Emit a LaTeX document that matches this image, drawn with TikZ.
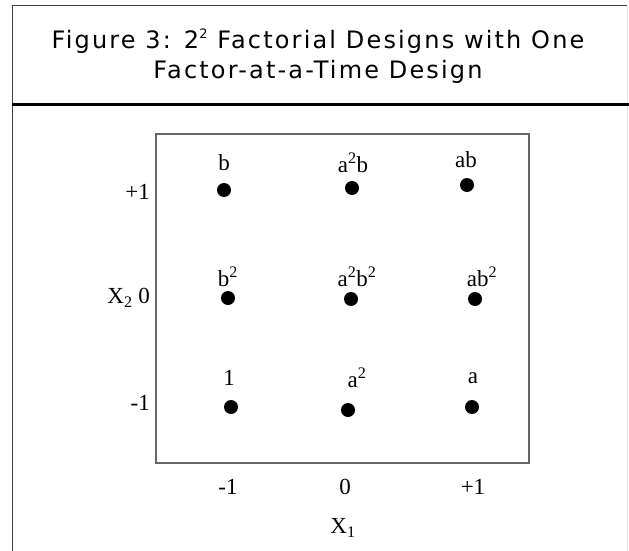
\documentclass[tikz,border=0pt]{standalone}
\usepackage{fontspec}
\setmainfont{Liberation Serif}
\newfontfamily\titlefont[LetterSpace=9]{DejaVu Sans}
\usetikzlibrary{positioning}

\tikzset{
  run/.style={circle, fill=black, inner sep=0pt, minimum size=14pt},
  lbl/.style={font=\fontsize{23}{25}\selectfont, inner sep=1pt},
  tick/.style={font=\fontsize{23}{25}\selectfont, inner sep=1pt},
}

\begin{document}
\begin{tikzpicture}[x=1pt, y=-1pt]
  \useasboundingbox (0,0) rectangle (629,551);
  % outer frame and title
  \draw[black!75, line width=1.5pt] (12.5,551) |- (627.5,5.5);
  \draw[black!10, line width=1pt] (627.5,5.5) -- (627.5,551);
  \draw[line width=2.5pt] (12,104.5) -- (629,104.5);
  \node[font=\titlefont\fontsize{24}{30}\selectfont, align=center] (title) at (318,56)
    {Figure 3: 2\raisebox{0.42em}{\fontsize{13}{13}\selectfont 2} Factorial Designs with One\\Factor-at-a-Time Design};
  % design region
  \draw[black!60, line width=2pt] (156,134) rectangle (529,463);
  % runs
  \node[run] (b)    at (224,190) {};
  \node[run] (aab)  at (352,188) {};
  \node[run] (ab)   at (467,185) {};
  \node[run] (bb)   at (228,298) {};
  \node[run] (aabb) at (351,299) {};
  \node[run] (abb)  at (475,299) {};
  \node[run] (one)  at (231,407) {};
  \node[run] (aa)   at (348,410) {};
  \node[run] (a)    at (472,407) {};
  % run labels
  \node[lbl] (lb)    at (224,163) {b};
  \node[lbl] (laab)  at (353,163) {a\textsuperscript{2}b};
  \node[lbl] (lab)   at (466,160) {ab};
  \node[lbl] (lbb)   at (228,277) {b\textsuperscript{2}};
  \node[lbl] (laabb) at (357,277) {a\textsuperscript{2}b\textsuperscript{2}};
  \node[lbl] (labb)  at (482,277) {ab\textsuperscript{2}};
  \node[lbl] (lone)  at (229,378) {1};
  \node[lbl] (laa)   at (357,378) {a\textsuperscript{2}};
  \node[lbl] (la)    at (473,378) {a};
  % axis ticks
  \node[tick, anchor=east] (yp) at (151,192) {+1};
  \node[tick, anchor=east] (y0) at (151,298) {X\textsubscript{2} 0};
  \node[tick, anchor=east] (ym) at (151,403) {-1};
  \node[tick] (xm) at (228,487) {-1};
  \node[tick] (x0) at (345,487) {0};
  \node[tick] (xp) at (473,487) {+1};
  \node[tick] (xname) at (343,528) {X\textsubscript{1}};
\end{tikzpicture}
\end{document}
